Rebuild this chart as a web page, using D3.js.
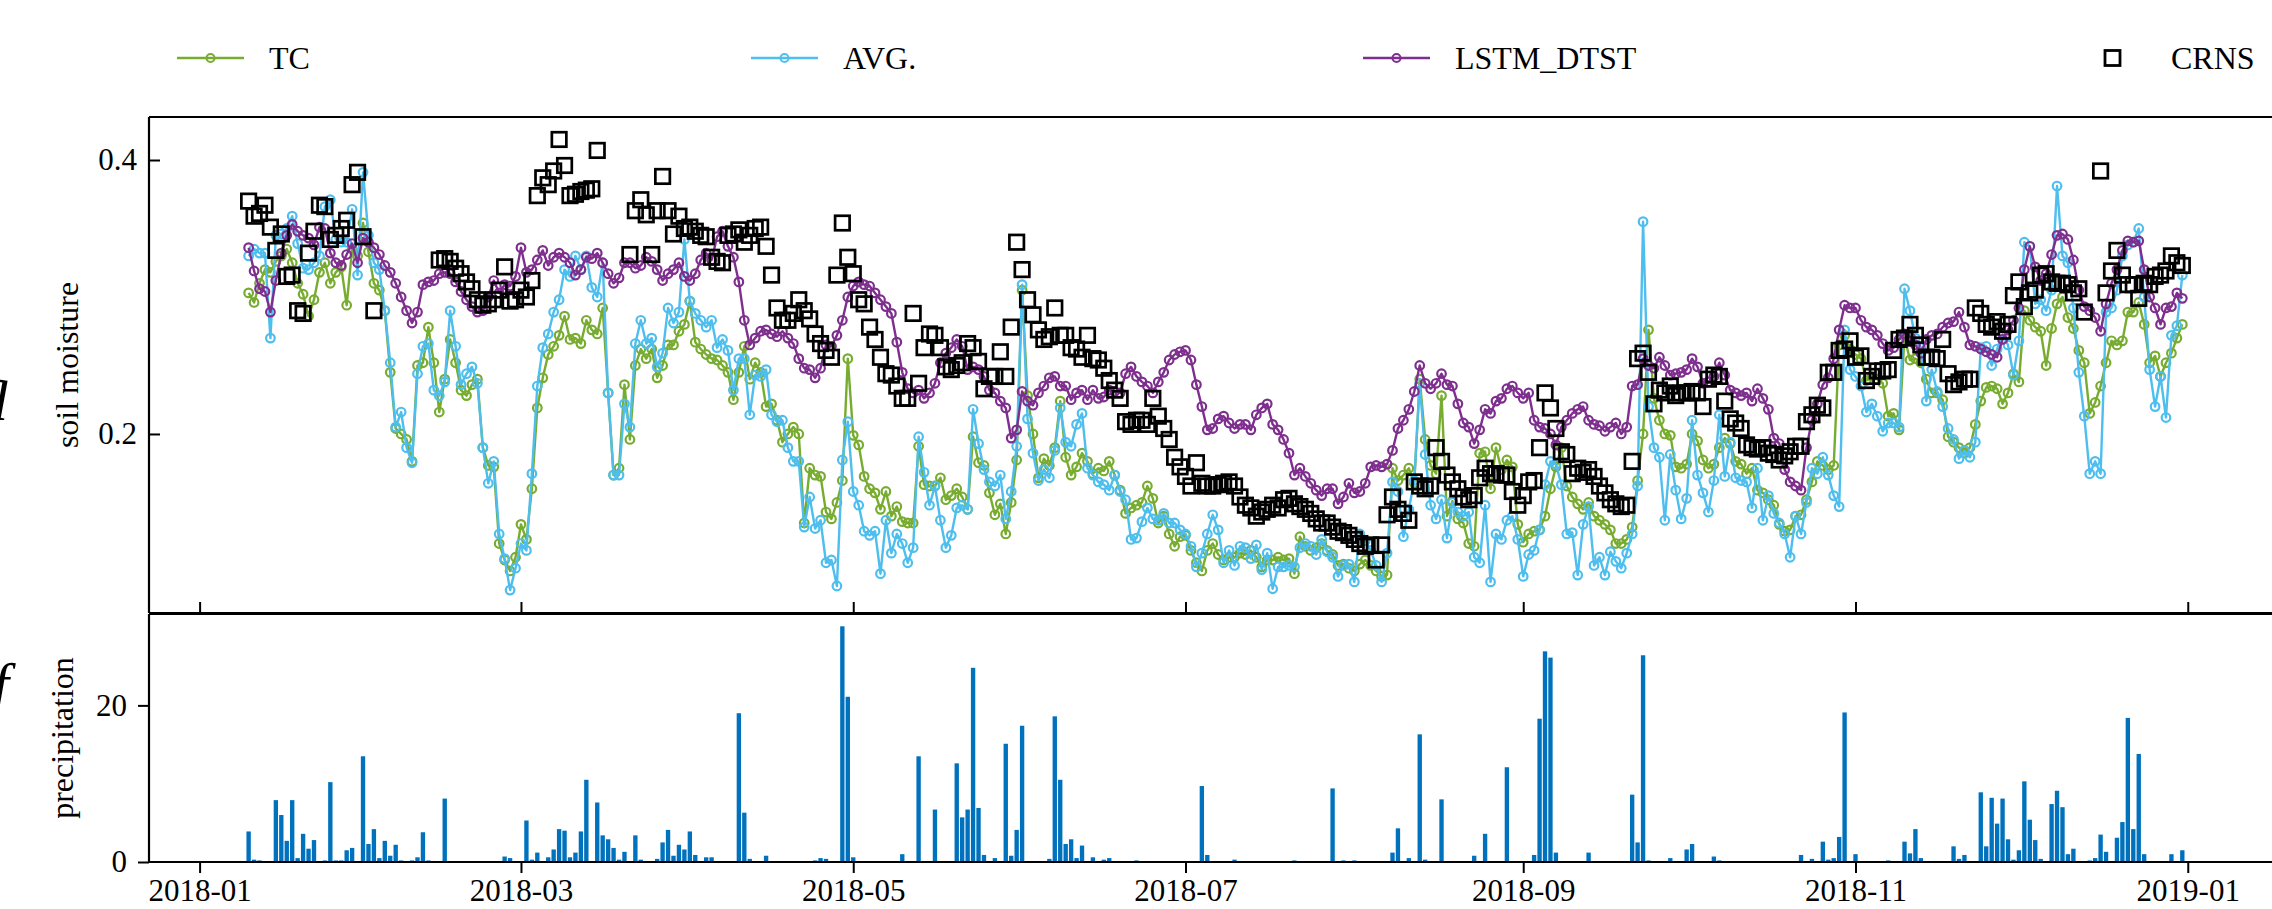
<!DOCTYPE html>
<html>
<head>
<meta charset="utf-8">
<script src="https://cdn.jsdelivr.net/npm/d3@7"></script>
<style>
  html, body { margin: 0; padding: 0; background: #fff; overflow: hidden; }
  svg { display: block; font-family: 'Liberation Serif', 'Times New Roman', serif; }
</style>
</head>
<body>
<svg id="chart" width="2272" height="909"></svg>
<script>
// Daily soil moisture series, first value on this date
const seriesStart = '2018-01-10';

const tc = [
  0.303, 0.296, 0.310, 0.320, 0.318, 0.326, 0.330, 0.335, 0.325, 0.310,
  0.302, 0.286, 0.298, 0.318, 0.325, 0.310, 0.318, 0.322, 0.294, 0.335,
  0.330, 0.354, 0.333, 0.310, 0.305, 0.290, 0.245, 0.204, 0.200, 0.196,
  0.180, 0.250, 0.252, 0.278, 0.252, 0.216, 0.240, 0.269, 0.252, 0.232,
  0.228, 0.236, 0.240, 0.190, 0.177, 0.176, 0.120, 0.108, 0.100, 0.110,
  0.134, 0.123, 0.160, 0.219, 0.241, 0.258, 0.264, 0.272, 0.286, 0.269,
  0.270, 0.266, 0.283, 0.276, 0.273, 0.292, 0.230, 0.170, 0.175, 0.236,
  0.196, 0.250, 0.262, 0.255, 0.262, 0.241, 0.250, 0.265, 0.265, 0.275,
  0.280, 0.297, 0.267, 0.262, 0.258, 0.255, 0.254, 0.250, 0.245, 0.225,
  0.245, 0.264, 0.240, 0.252, 0.245, 0.220, 0.222, 0.210, 0.194, 0.200,
  0.205, 0.200, 0.135, 0.175, 0.170, 0.169, 0.143, 0.138, 0.150, 0.166,
  0.255, 0.199, 0.192, 0.169, 0.160, 0.157, 0.145, 0.158, 0.140, 0.147,
  0.136, 0.135, 0.135, 0.191, 0.163, 0.162, 0.162, 0.168, 0.152, 0.155,
  0.160, 0.154, 0.145, 0.198, 0.179, 0.177, 0.157, 0.141, 0.149, 0.127,
  0.150, 0.181, 0.305, 0.228, 0.200, 0.168, 0.182, 0.177, 0.190, 0.224,
  0.183, 0.170, 0.176, 0.186, 0.180, 0.171, 0.175, 0.173, 0.180, 0.170,
  0.159, 0.142, 0.146, 0.148, 0.150, 0.162, 0.153, 0.135, 0.140, 0.127,
  0.118, 0.125, 0.126, 0.115, 0.106, 0.100, 0.115, 0.120, 0.112, 0.108,
  0.110, 0.110, 0.113, 0.112, 0.115, 0.110, 0.103, 0.108, 0.108, 0.110,
  0.108, 0.109, 0.098, 0.125, 0.118, 0.115, 0.117, 0.120, 0.115, 0.112,
  0.104, 0.105, 0.102, 0.100, 0.105, 0.108, 0.104, 0.100, 0.096, 0.097,
  0.175, 0.166, 0.170, 0.175, 0.164, 0.240, 0.196, 0.177, 0.171, 0.228,
  0.140, 0.151, 0.138, 0.135, 0.120, 0.118, 0.186, 0.187, 0.160, 0.190,
  0.174, 0.181, 0.176, 0.134, 0.121, 0.127, 0.129, 0.130, 0.140, 0.160,
  0.176, 0.190, 0.162, 0.154, 0.149, 0.145, 0.150, 0.140, 0.137, 0.134,
  0.130, 0.120, 0.120, 0.123, 0.132, 0.166, 0.200, 0.276, 0.226, 0.210,
  0.200, 0.199, 0.176, 0.175, 0.178, 0.200, 0.195, 0.181, 0.175, 0.178,
  0.190, 0.197, 0.193, 0.180, 0.178, 0.171, 0.175, 0.159, 0.157, 0.152,
  0.148, 0.134, 0.129, 0.130, 0.140, 0.141, 0.152, 0.165, 0.180, 0.177,
  0.174, 0.177, 0.265, 0.272, 0.262, 0.258, 0.255, 0.239, 0.242, 0.240,
  0.237, 0.213, 0.215, 0.203, 0.271, 0.254, 0.255, 0.252, 0.240, 0.230,
  0.230, 0.225, 0.198, 0.194, 0.190, 0.186, 0.190, 0.207, 0.224, 0.234,
  0.235, 0.233, 0.222, 0.230, 0.244, 0.238, 0.290, 0.283, 0.278, 0.275,
  0.250, 0.277, 0.295, 0.300, 0.285, 0.277, 0.261, 0.252, 0.215, 0.223,
  0.235, 0.252, 0.268, 0.265, 0.268, 0.289, 0.289, 0.296, 0.280, 0.252,
  0.257, 0.242, 0.252, 0.259, 0.270, 0.280
];

const avg = [
  0.330, 0.335, 0.332, 0.332, 0.270, 0.345, 0.346, 0.350, 0.359, 0.339,
  0.321, 0.320, 0.325, 0.330, 0.366, 0.371, 0.342, 0.340, 0.340, 0.364,
  0.316, 0.391, 0.345, 0.325, 0.320, 0.290, 0.252, 0.205, 0.216, 0.190,
  0.179, 0.244, 0.264, 0.266, 0.232, 0.228, 0.238, 0.290, 0.264, 0.236,
  0.244, 0.249, 0.237, 0.190, 0.164, 0.180, 0.127, 0.109, 0.086, 0.102,
  0.120, 0.115, 0.171, 0.235, 0.263, 0.273, 0.289, 0.298, 0.320, 0.315,
  0.330, 0.320, 0.330, 0.307, 0.300, 0.325, 0.230, 0.170, 0.170, 0.222,
  0.205, 0.266, 0.283, 0.266, 0.270, 0.249, 0.259, 0.292, 0.281, 0.289,
  0.342, 0.297, 0.288, 0.283, 0.278, 0.283, 0.263, 0.269, 0.261, 0.232,
  0.255, 0.255, 0.214, 0.243, 0.242, 0.247, 0.214, 0.209, 0.210, 0.190,
  0.180, 0.180, 0.132, 0.154, 0.131, 0.137, 0.106, 0.108, 0.089, 0.181,
  0.209, 0.158, 0.148, 0.129, 0.126, 0.129, 0.098, 0.137, 0.113, 0.127,
  0.120, 0.106, 0.117, 0.198, 0.172, 0.148, 0.162, 0.137, 0.117, 0.126,
  0.146, 0.148, 0.145, 0.218, 0.193, 0.174, 0.165, 0.162, 0.170, 0.138,
  0.158, 0.191, 0.309, 0.211, 0.186, 0.166, 0.174, 0.168, 0.188, 0.219,
  0.194, 0.191, 0.207, 0.215, 0.175, 0.170, 0.165, 0.163, 0.159, 0.170,
  0.158, 0.152, 0.123, 0.124, 0.136, 0.146, 0.138, 0.137, 0.142, 0.135,
  0.135, 0.130, 0.127, 0.118, 0.103, 0.113, 0.127, 0.141, 0.130, 0.106,
  0.115, 0.104, 0.118, 0.117, 0.109, 0.119, 0.101, 0.113, 0.087, 0.103,
  0.103, 0.104, 0.103, 0.117, 0.120, 0.118, 0.112, 0.123, 0.114, 0.110,
  0.096, 0.104, 0.105, 0.092, 0.127, 0.122, 0.115, 0.104, 0.092, 0.113,
  0.165, 0.158, 0.125, 0.145, 0.166, 0.237, 0.185, 0.148, 0.138, 0.152,
  0.124, 0.150, 0.143, 0.140, 0.143, 0.110, 0.106, 0.148, 0.092, 0.127,
  0.123, 0.137, 0.140, 0.123, 0.096, 0.112, 0.115, 0.130, 0.163, 0.180,
  0.178, 0.163, 0.127, 0.128, 0.097, 0.134, 0.147, 0.104, 0.110, 0.097,
  0.114, 0.107, 0.102, 0.113, 0.127, 0.162, 0.355, 0.220, 0.190, 0.183,
  0.137, 0.185, 0.159, 0.138, 0.153, 0.210, 0.170, 0.157, 0.143, 0.166,
  0.214, 0.169, 0.194, 0.168, 0.166, 0.165, 0.146, 0.175, 0.137, 0.155,
  0.142, 0.135, 0.127, 0.110, 0.140, 0.127, 0.150, 0.175, 0.171, 0.183,
  0.170, 0.155, 0.147, 0.276, 0.247, 0.242, 0.235, 0.216, 0.222, 0.213,
  0.202, 0.208, 0.208, 0.205, 0.306, 0.290, 0.270, 0.263, 0.224, 0.247,
  0.231, 0.220, 0.204, 0.196, 0.182, 0.188, 0.183, 0.194, 0.263, 0.264,
  0.250, 0.262, 0.273, 0.265, 0.243, 0.268, 0.340, 0.337, 0.295, 0.298,
  0.290, 0.305, 0.381, 0.330, 0.325, 0.292, 0.245, 0.213, 0.171, 0.180,
  0.171, 0.289, 0.292, 0.305, 0.330, 0.338, 0.340, 0.350, 0.300, 0.247,
  0.220, 0.242, 0.212, 0.272, 0.279, 0.316
];

const lstm = [
  0.336, 0.319, 0.306, 0.304, 0.289, 0.312, 0.332, 0.345, 0.353, 0.348,
  0.345, 0.343, 0.338, 0.351, 0.350, 0.332, 0.325, 0.323, 0.331, 0.339,
  0.325, 0.343, 0.340, 0.336, 0.331, 0.323, 0.318, 0.310, 0.300, 0.290,
  0.281, 0.289, 0.309, 0.311, 0.312, 0.317, 0.318, 0.317, 0.311, 0.304,
  0.298, 0.293, 0.289, 0.290, 0.300, 0.312, 0.303, 0.309, 0.308, 0.315,
  0.336, 0.318, 0.320, 0.327, 0.334, 0.323, 0.329, 0.332, 0.329, 0.325,
  0.316, 0.320, 0.329, 0.328, 0.332, 0.325, 0.317, 0.310, 0.314, 0.325,
  0.325, 0.321, 0.323, 0.329, 0.326, 0.320, 0.312, 0.317, 0.320, 0.325,
  0.315, 0.312, 0.317, 0.327, 0.332, 0.327, 0.344, 0.348, 0.337, 0.329,
  0.311, 0.283, 0.265, 0.270, 0.275, 0.276, 0.273, 0.271, 0.275, 0.270,
  0.266, 0.255, 0.248, 0.247, 0.241, 0.248, 0.265, 0.264, 0.272, 0.283,
  0.300, 0.308, 0.311, 0.309, 0.308, 0.303, 0.298, 0.293, 0.288, 0.267,
  0.245, 0.233, 0.230, 0.232, 0.226, 0.230, 0.237, 0.252, 0.259, 0.263,
  0.269, 0.264, 0.247, 0.249, 0.247, 0.242, 0.232, 0.230, 0.224, 0.219,
  0.197, 0.203, 0.231, 0.224, 0.221, 0.230, 0.235, 0.241, 0.242, 0.235,
  0.235, 0.225, 0.230, 0.232, 0.225, 0.232, 0.226, 0.227, 0.232, 0.231,
  0.230, 0.244, 0.249, 0.242, 0.238, 0.235, 0.230, 0.238, 0.245, 0.254,
  0.258, 0.260, 0.261, 0.254, 0.236, 0.220, 0.203, 0.204, 0.211, 0.213,
  0.208, 0.204, 0.207, 0.207, 0.203, 0.214, 0.219, 0.222, 0.207, 0.203,
  0.196, 0.186, 0.170, 0.175, 0.169, 0.164, 0.159, 0.155, 0.160, 0.160,
  0.149, 0.154, 0.164, 0.157, 0.158, 0.164, 0.176, 0.177, 0.176, 0.178,
  0.188, 0.204, 0.210, 0.218, 0.231, 0.250, 0.237, 0.233, 0.237, 0.244,
  0.236, 0.235, 0.222, 0.208, 0.205, 0.193, 0.203, 0.218, 0.215, 0.224,
  0.226, 0.233, 0.235, 0.230, 0.226, 0.230, 0.210, 0.205, 0.204, 0.200,
  0.192, 0.205, 0.210, 0.215, 0.218, 0.220, 0.210, 0.207, 0.206, 0.202,
  0.205, 0.208, 0.200, 0.205, 0.235, 0.236, 0.255, 0.250, 0.248, 0.256,
  0.250, 0.243, 0.244, 0.245, 0.247, 0.255, 0.249, 0.237, 0.238, 0.242,
  0.252, 0.243, 0.232, 0.230, 0.228, 0.230, 0.224, 0.233, 0.226, 0.218,
  0.197, 0.193, 0.174, 0.165, 0.162, 0.159, 0.190, 0.210, 0.222, 0.236,
  0.241, 0.255, 0.276, 0.294, 0.292, 0.292, 0.283, 0.278, 0.276, 0.272,
  0.266, 0.261, 0.263, 0.269, 0.273, 0.271, 0.265, 0.259, 0.269, 0.272,
  0.273, 0.278, 0.281, 0.282, 0.289, 0.278, 0.265, 0.264, 0.262, 0.260,
  0.258, 0.256, 0.269, 0.276, 0.283, 0.292, 0.320, 0.337, 0.322, 0.312,
  0.317, 0.331, 0.345, 0.346, 0.342, 0.327, 0.305, 0.293, 0.290, 0.285,
  0.275, 0.295, 0.310, 0.320, 0.334, 0.341, 0.340, 0.341, 0.320, 0.300,
  0.292, 0.280, 0.292, 0.293, 0.303, 0.299
];

// Cosmic-ray neutron sensor, null where there is no reading
const crns = [
  0.370, 0.359, 0.361, 0.367, 0.351, 0.334, 0.346, 0.315, 0.316, 0.290,
  0.288, 0.332, 0.348, 0.367, 0.366, 0.342, 0.345, 0.350, 0.356, 0.382,
  0.391, 0.344, null, 0.290, null, null, null, null, null, null,
  null, null, null, null, null, 0.327, 0.328, 0.326, 0.321, 0.317,
  0.311, 0.306, 0.298, 0.294, 0.295, 0.298, 0.305, 0.322, 0.297, 0.298,
  0.305, 0.300, 0.312, 0.374, 0.387, 0.382, 0.392, 0.415, 0.396, 0.374,
  0.375, 0.377, 0.378, 0.379, 0.407, null, null, null, null, null,
  0.331, 0.363, 0.371, 0.360, 0.331, 0.363, 0.388, 0.363, 0.346, 0.359,
  0.350, 0.351, 0.348, 0.345, 0.344, 0.329, 0.326, 0.325, 0.345, 0.346,
  0.349, 0.340, 0.345, 0.350, 0.351, 0.337, 0.316, 0.292, 0.283, 0.283,
  0.288, 0.298, 0.290, 0.284, 0.273, 0.266, 0.261, 0.256, 0.316, 0.354,
  0.329, 0.317, 0.298, 0.295, 0.278, 0.269, 0.256, 0.244, 0.243, 0.235,
  0.226, 0.226, 0.288, 0.237, 0.263, 0.273, 0.272, 0.263, 0.249, 0.247,
  0.250, 0.252, 0.266, 0.263, 0.253, 0.233, 0.242, 0.242, 0.260, 0.242,
  0.278, 0.340, 0.320, 0.298, 0.287, 0.276, 0.269, 0.271, 0.292, 0.272,
  0.272, 0.263, 0.262, 0.256, 0.272, 0.255, 0.254, 0.248, 0.239, 0.232,
  0.226, 0.209, 0.207, 0.210, 0.210, 0.207, 0.226, 0.213, 0.204, 0.196,
  0.183, 0.176, 0.169, 0.162, 0.179, 0.164, 0.162, 0.162, 0.163, 0.164,
  0.165, 0.162, 0.154, 0.148, 0.146, 0.140, 0.143, 0.145, 0.148, 0.146,
  0.152, 0.153, 0.149, 0.147, 0.145, 0.142, 0.138, 0.135, 0.135, 0.132,
  0.129, 0.128, 0.126, 0.123, 0.120, 0.118, 0.119, 0.108, 0.119, 0.141,
  0.154, 0.145, 0.142, 0.137, 0.165, 0.162, 0.160, 0.162, 0.190, 0.180,
  0.170, 0.165, 0.160, 0.154, 0.152, 0.155, 0.168, 0.175, 0.171, 0.171,
  0.170, 0.170, 0.158, 0.148, 0.155, 0.165, 0.166, 0.190, 0.230, 0.219,
  0.204, 0.187, 0.185, 0.171, 0.175, 0.172, 0.174, 0.169, 0.162, 0.157,
  0.152, 0.149, 0.147, 0.148, 0.180, 0.255, 0.259, 0.245, 0.222, 0.232,
  0.230, 0.235, 0.228, 0.230, 0.230, 0.231, 0.230, 0.220, 0.240, 0.243,
  0.242, 0.224, 0.211, 0.208, 0.204, 0.192, 0.190, 0.189, 0.190, 0.186,
  0.185, 0.181, 0.184, 0.187, 0.191, 0.191, 0.209, 0.214, 0.221, 0.219,
  0.245, 0.245, 0.261, 0.262, 0.268, 0.256, 0.257, 0.239, 0.242, 0.246,
  0.246, 0.247, 0.261, 0.269, 0.270, 0.280, 0.272, 0.265, 0.256, 0.256,
  0.255, 0.269, 0.244, 0.236, 0.238, 0.240, 0.240, 0.292, 0.288, 0.280,
  0.278, 0.282, 0.275, 0.280, 0.301, 0.311, 0.293, 0.303, 0.305, 0.316,
  0.317, 0.311, 0.310, 0.310, 0.309, 0.303, 0.306, 0.289, null, null,
  0.392, 0.303, 0.319, 0.334, 0.316, 0.309, 0.309, 0.299, 0.310, 0.309,
  0.315, 0.316, 0.319, 0.330, 0.325, 0.323
];

// Precipitation: days after 2018-01-01 and amount (all other days are 0)
const rainDay = [
  9, 10, 11, 14, 15, 16, 17, 18, 19, 20, 21, 23, 24, 25, 26, 27, 28, 30, 31, 32,
  33, 34, 35, 36, 37, 39, 40, 41, 42, 45, 56, 57, 60, 61, 62, 64, 65, 66, 67, 68,
  69, 70, 71, 73, 74, 75, 76, 77, 78, 80, 81, 84, 85, 86, 87, 88, 89, 90, 91, 93,
  94, 99, 100, 101, 104, 113, 114, 115, 118, 119, 120, 129, 132, 135, 139, 140, 141, 142, 143, 144,
  146, 148, 149, 150, 151, 156, 157, 158, 159, 160, 161, 162, 164, 166, 167, 172, 184, 185, 190, 201,
  208, 210, 212, 219, 220, 222, 224, 225, 228, 234, 236, 240, 245, 246, 247, 248, 249, 255, 263, 264,
  265, 266, 270, 273, 274, 278, 279, 294, 296, 298, 299, 300, 301, 302, 304, 310, 313, 314, 315, 316,
  322, 323, 324, 327, 328, 329, 330, 331, 332, 333, 334, 335, 336, 337, 338, 340, 341, 342, 343, 344,
  347, 348, 349, 350, 352, 353, 354, 355, 356, 357, 362, 364
];
const rainValue = [
  3.9, 0.3, 0.2, 7.9, 6.0, 2.7, 7.9, 0.5, 3.6, 1.7, 2.8, 0.2, 10.2, 0.2, 0.2, 1.5, 1.8, 13.5, 2.3, 4.2,
  0.5, 2.7, 0.8, 2.2, 0.2, 0.2, 0.6, 3.8, 0.2, 8.1, 0.7, 0.5, 5.3, 0.3, 1.2, 0.6, 1.6, 4.2, 4.0, 0.6,
  1.2, 3.9, 10.5, 7.6, 3.4, 2.9, 1.8, 0.3, 1.3, 3.4, 0.3, 0.4, 2.5, 4.1, 0.8, 2.2, 1.6, 3.9, 0.9, 0.6,
  0.6, 19.0, 6.3, 0.4, 0.8, 0.2, 0.5, 0.4, 30.1, 21.1, 0.6, 1.0, 13.5, 6.7, 12.6, 5.7, 6.7, 24.8, 6.9, 0.9,
  0.5, 15.1, 0.8, 4.1, 17.4, 0.4, 18.6, 10.5, 2.3, 2.9, 0.5, 2.1, 0.6, 0.3, 0.5, 0.2, 9.7, 0.9, 0.3, 0.2,
  9.4, 0.2, 0.2, 1.2, 4.3, 0.5, 16.3, 0.3, 8.0, 0.8, 3.6, 12.1, 0.9, 18.3, 26.9, 26.1, 1.2, 1.2, 8.6, 2.5,
  26.4, 0.2, 0.5, 1.6, 2.3, 0.7, 0.2, 0.9, 0.4, 2.6, 0.3, 0.5, 3.2, 19.1, 1.0, 0.2, 2.6, 1.1, 4.2, 0.5,
  2.0, 0.4, 0.9, 8.9, 2.0, 8.2, 4.9, 8.1, 2.9, 0.3, 1.5, 10.3, 5.4, 2.8, 0.4, 7.4, 9.1, 7.0, 1.0, 1.7,
  0.2, 0.5, 3.5, 1.3, 3.1, 5.1, 18.4, 4.2, 13.8, 1.0, 1.0, 1.5
];

const moistureTicks = [0.2, 0.4];
const rainTicks = [0, 20];
const legendNames = ['TC', 'AVG.', 'LSTM_DTST', 'CRNS'];
const colors = { TC: '#77AC30', 'AVG.': '#4DBEEE', LSTM_DTST: '#7E2F8E', CRNS: '#000000', rain: '#0072BD' };

// Layout
const left = 149, right = 2279;
const smTop = 117, smBottom = 613;
const prTop = 614, prBottom = 862;
const dayMs = 864e5;

const svg = d3.select('#chart');

const parseDay = d3.utcParse('%Y-%m-%d');
const start = parseDay(seriesStart);
const yearStart = parseDay('2018-01-01');
const dates = tc.map((_, i) => new Date(+start + i * dayMs));

// Scales (matplotlib-like 5% margins around the data range)
const x = d3.scaleUtc()
    .domain([new Date(+yearStart - 9.29 * dayMs), new Date(+yearStart + 381.75 * dayMs)])
    .range([left, right]);

const ySm = d3.scaleLinear().domain([0.0693, 0.4314]).range([smBottom, smTop]);
const yRain = d3.scaleLinear().domain([0, 31.67]).range([prBottom, prTop]);

// Clip paths
const defs = svg.append('defs');
defs.append('clipPath').attr('id', 'clipSm')
    .append('rect').attr('x', left).attr('y', smTop).attr('width', right - left).attr('height', smBottom - smTop);
defs.append('clipPath').attr('id', 'clipPr')
    .append('rect').attr('x', left).attr('y', prTop).attr('width', right - left).attr('height', prBottom - prTop);

// Soil moisture series
const series = [
    { name: 'TC', values: tc, line: true },
    { name: 'AVG.', values: avg, line: true },
    { name: 'LSTM_DTST', values: lstm, line: true },
    { name: 'CRNS', values: crns, line: false }
];

const gSm = svg.append('g').attr('clip-path', 'url(#clipSm)');
const line = d3.line()
    .defined(d => d.v != null)
    .x(d => x(d.date))
    .y(d => ySm(d.v));

const markerR = 4.3;
const squareSide = 14.5;

series.forEach(s => {
    const pts = s.values.map((v, i) => ({ date: dates[i], v }));
    const color = colors[s.name];
    if (s.line) {
        gSm.append('path')
            .datum(pts)
            .attr('fill', 'none')
            .attr('stroke', color)
            .attr('stroke-width', 2.4)
            .attr('stroke-linejoin', 'round')
            .attr('d', line);
        gSm.append('g').selectAll('circle')
            .data(pts.filter(d => d.v != null))
            .enter()
            .append('circle')
            .attr('cx', d => x(d.date))
            .attr('cy', d => ySm(d.v))
            .attr('r', markerR)
            .attr('fill', 'none')
            .attr('stroke', color)
            .attr('stroke-width', 2.2);
    } else {
        gSm.append('g').selectAll('rect')
            .data(pts.filter(d => d.v != null))
            .enter()
            .append('rect')
            .attr('x', d => x(d.date) - squareSide / 2)
            .attr('y', d => ySm(d.v) - squareSide / 2)
            .attr('width', squareSide)
            .attr('height', squareSide)
            .attr('fill', 'none')
            .attr('stroke', color)
            .attr('stroke-width', 2.7);
    }
});

// Precipitation bars
const rain = rainDay.map((d, i) => ({ date: new Date(+yearStart + d * dayMs), v: rainValue[i] }));
svg.append('g').attr('clip-path', 'url(#clipPr)')
    .selectAll('rect')
    .data(rain)
    .enter()
    .append('rect')
    .attr('x', d => x(new Date(+d.date - 0.4 * dayMs)))
    .attr('width', d => x(new Date(+d.date + 0.4 * dayMs)) - x(new Date(+d.date - 0.4 * dayMs)))
    .attr('y', d => yRain(d.v))
    .attr('height', d => yRain(0) - yRain(d.v))
    .attr('fill', colors.rain);

// Axes
const tickFont = 31;
const styleAxis = g => {
    g.select('.domain').remove();
    g.selectAll('.tick line').attr('stroke', '#000').attr('stroke-width', 2);
    g.selectAll('.tick text')
        .attr('fill', '#000')
        .style('font-family', "'Liberation Serif', 'Times New Roman', serif")
        .style('font-size', tickFont + 'px');
};

const monthTicks = d3.utcMonth.every(2).range(new Date(Date.UTC(2018, 0, 1)), new Date(Date.UTC(2019, 0, 2)));

// top panel: inward ticks, no x labels
svg.append('g')
    .attr('transform', `translate(0,${smBottom})`)
    .call(d3.axisBottom(x).tickValues(monthTicks).tickSize(-11).tickFormat(''))
    .call(styleAxis);
svg.append('g')
    .attr('transform', `translate(${left},0)`)
    .call(d3.axisLeft(ySm).tickValues(moistureTicks).tickSize(-11).tickPadding(12).tickFormat(d3.format('.1f')))
    .call(styleAxis);

// bottom panel: outward ticks
svg.append('g')
    .attr('transform', `translate(0,${prBottom})`)
    .call(d3.axisBottom(x).tickValues(monthTicks).tickSize(11).tickPadding(6).tickFormat(d3.utcFormat('%Y-%m')))
    .call(styleAxis);
svg.append('g')
    .attr('transform', `translate(${left},0)`)
    .call(d3.axisLeft(yRain).tickValues(rainTicks).tickSize(11).tickPadding(11).tickFormat(d3.format('d')))
    .call(styleAxis);

// Spines
const spine = (x1, y1, x2, y2) => svg.append('line')
    .attr('x1', x1).attr('y1', y1).attr('x2', x2).attr('y2', y2)
    .attr('stroke', '#000').attr('stroke-width', 2.2);
spine(left, smTop, right, smTop);
spine(left, smBottom, right, smBottom);
spine(left, smTop, left, smBottom);
spine(right, smTop, right, smBottom);
spine(left, prTop, right, prTop);
spine(left, prBottom, right, prBottom);
spine(left, prTop, left, prBottom);
spine(right, prTop, right, prBottom);

// Axis labels
svg.append('text')
    .attr('transform', `translate(78,${(smTop + smBottom) / 2}) rotate(-90)`)
    .attr('text-anchor', 'middle')
    .style('font-size', '32px')
    .text('soil moisture');
svg.append('text')
    .attr('transform', `translate(73,${(prTop + prBottom) / 2}) rotate(-90)`)
    .attr('text-anchor', 'middle')
    .style('font-size', '32px')
    .text('precipitation');

// Fragments of neighbouring panel labels cut by the left image edge
svg.append('text')
    .attr('x', 9).attr('y', 407)
    .attr('text-anchor', 'end')
    .style('font-size', '60px').style('font-style', 'italic')
    .text('q');
svg.append('text')
    .attr('x', 9).attr('y', 704)
    .attr('text-anchor', 'end')
    .style('font-size', '60px').style('font-style', 'italic')
    .text('f');

// Legend
const legendX = [177, 751, 1363, 2079];
const legendY = 58;
const handleLen = 67;
const legend = svg.append('g');
legendNames.forEach((name, i) => {
    const g = legend.append('g').attr('transform', `translate(${legendX[i]},${legendY})`);
    const color = colors[name];
    if (name !== 'CRNS') {
        g.append('line').attr('x1', 0).attr('x2', handleLen).attr('y1', 0).attr('y2', 0)
            .attr('stroke', color).attr('stroke-width', 2.6);
        g.append('circle').attr('cx', handleLen / 2).attr('cy', 0).attr('r', 4)
            .attr('fill', 'none').attr('stroke', color).attr('stroke-width', 2);
    } else {
        g.append('rect').attr('x', handleLen / 2 - 7.5).attr('y', -7.5).attr('width', 15).attr('height', 15)
            .attr('fill', 'none').attr('stroke', color).attr('stroke-width', 2.8);
    }
    g.append('text')
        .attr('x', handleLen + 25)
        .attr('y', 11)
        .style('font-size', '32px')
        .text(name);
});
</script>
</body>
</html>
